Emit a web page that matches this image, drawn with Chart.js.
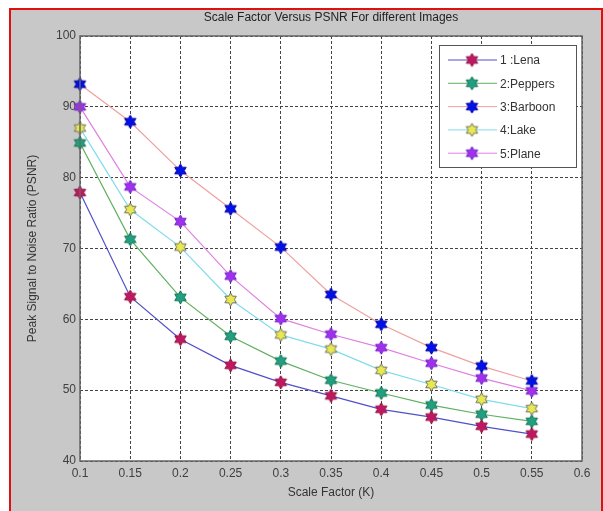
<!DOCTYPE html>
<html>
<head>
<meta charset="utf-8">
<script src="https://cdn.jsdelivr.net/npm/chart.js@4"></script>
<style>
  body { margin: 0; background: #fff; }
  #wrap { width: 603px; height: 511px; }
</style>
</head>
<body>
<div id="wrap"><canvas id="myChart" width="603" height="511"></canvas></div>
<script>
  // values
  var scaleFactor = [0.1, 0.15, 0.2, 0.25, 0.3, 0.35, 0.4, 0.45, 0.5, 0.55];
  var xTicks = [0.1, 0.15, 0.2, 0.25, 0.3, 0.35, 0.4, 0.45, 0.5, 0.55, 0.6];
  var xTickLabels = ['0.1', '0.15', '0.2', '0.25', '0.3', '0.35', '0.4', '0.45', '0.5', '0.55', '0.6'];
  var yTicks = [40, 50, 60, 70, 80, 90, 100];

  var lena = [77.9, 63.2, 57.2, 53.5, 51.1, 49.2, 47.3, 46.2, 44.9, 43.8];
  var peppers = [84.9, 71.3, 63.1, 57.6, 54.1, 51.4, 49.6, 47.9, 46.6, 45.6];
  var barboon = [93.2, 87.9, 81.0, 75.6, 70.2, 63.5, 59.3, 56.0, 53.4, 51.3];
  var lake = [87.0, 75.5, 70.2, 62.8, 57.8, 55.8, 52.8, 50.8, 48.7, 47.4];
  var plane = [90.0, 78.7, 73.8, 66.1, 60.1, 57.9, 56.0, 53.8, 51.7, 49.9];

  var seriesNames = ['1 :Lena', '2:Peppers', '3:Barboon', '4:Lake', '5:Plane'];

  // six pointed star marker, like matlab 'h'
  function makeStar(fill, edge) {
    var c = document.createElement('canvas');
    c.width = 15; c.height = 15;
    var g = c.getContext('2d');
    var R = 6.6, r = R / Math.sqrt(3);
    g.beginPath();
    for (var i = 0; i < 12; i++) {
      var a = -Math.PI / 2 + i * Math.PI / 6;
      var rr = (i % 2 === 0) ? R : r;
      var px = 7.5 + rr * Math.cos(a), py = 7.5 + rr * Math.sin(a);
      if (i === 0) g.moveTo(px, py); else g.lineTo(px, py);
    }
    g.closePath();
    g.fillStyle = fill;
    g.fill();
    g.lineWidth = 1;
    g.strokeStyle = edge;
    g.stroke();
    return c;
  }

  function toPoints(vals) {
    return vals.map(function (v, i) { return { x: scaleFactor[i], y: v }; });
  }

  function series(label, vals, line, fill, edge) {
    return {
      label: label,
      data: toPoints(vals),
      borderColor: line,
      backgroundColor: fill,
      borderWidth: 1.2,
      pointStyle: makeStar(fill, edge),
      pointRadius: 6,
      tension: 0,
      clip: false
    };
  }

  var frame = {
    id: 'frame',
    beforeDraw: function (chart) {
      var ctx = chart.ctx, a = chart.chartArea;
      ctx.save();
      ctx.fillStyle = '#fff';
      ctx.fillRect(0, 0, chart.width, chart.height);
      ctx.fillStyle = '#c8c8c8';
      ctx.fillRect(10, 9, chart.width - 11, chart.height - 9);
      ctx.strokeStyle = '#e01010';
      ctx.lineWidth = 2;
      ctx.strokeRect(10, 9, chart.width - 11, chart.height + 5);
      ctx.fillStyle = '#fff';
      ctx.fillRect(a.left, a.top, a.right - a.left, a.bottom - a.top);
      ctx.restore();
    },
    afterDraw: function (chart) {
      var ctx = chart.ctx, a = chart.chartArea;
      ctx.save();
      ctx.strokeStyle = '#666';
      ctx.lineWidth = 1.5;
      ctx.strokeRect(a.left, a.top, a.right - a.left, a.bottom - a.top);

      // legend box
      var bx = 439, by = 45, bw = 137, bh = 122;
      ctx.fillStyle = '#fff';
      ctx.fillRect(bx, by, bw, bh);
      ctx.strokeStyle = '#555';
      ctx.lineWidth = 1;
      ctx.strokeRect(bx + 0.5, by + 0.5, bw, bh);
      ctx.font = '12px "Liberation Sans", Arial, sans-serif';
      ctx.textBaseline = 'middle';
      chart.data.datasets.forEach(function (ds, i) {
        var yy = 60 + i * 23.3;
        ctx.strokeStyle = ds.borderColor;
        ctx.beginPath();
        ctx.moveTo(448, yy);
        ctx.lineTo(497, yy);
        ctx.stroke();
        ctx.drawImage(ds.pointStyle, 472 - 7.5, yy - 7.5);
        ctx.fillStyle = '#333';
        ctx.fillText(ds.label, 500, yy + 1);
      });
      ctx.restore();
    }
  };

  var ctx = document.getElementById('myChart').getContext('2d');
  this.chart = new Chart(ctx, {
    type: 'line',
    data: {
      datasets: [
        series(seriesNames[0], lena, '#5050c8', '#c01860', '#901040'),
        series(seriesNames[1], peppers, '#60b060', '#20a080', '#107050'),
        series(seriesNames[2], barboon, '#f0a0a0', '#0010e8', '#0000a0'),
        series(seriesNames[3], lake, '#80dcec', '#e8e850', '#707060'),
        series(seriesNames[4], plane, '#e080e0', '#a030f0', '#7020c0')
      ]
    },
    options: {
      responsive: false,
      animation: false,
      layout: { padding: { top: 0, right: 21, left: 0, bottom: 0 } },
      plugins: {
        legend: { display: false },
        tooltip: { enabled: false },
        title: {
          display: true,
          text: 'Scale Factor Versus PSNR For different Images',
          fullSize: false,
          color: '#222',
          font: { family: '"Liberation Sans", Arial, sans-serif', size: 12, weight: 'normal' },
          padding: { top: 10, bottom: 11.6 }
        }
      },
      scales: {
        x: {
          type: 'linear',
          min: 0.1,
          max: 0.6,
          afterBuildTicks: function (scale) {
            scale.ticks = xTicks.map(function (v) { return { value: v }; });
          },
          afterFit: function (scale) { scale.height = 50; },
          ticks: {
            color: '#404040',
            padding: 5,
            maxRotation: 0,
            autoSkip: false,
            font: { family: '"Liberation Sans", Arial, sans-serif', size: 12 },
            callback: function (v, i) { return xTickLabels[i]; }
          },
          grid: { color: '#444', drawTicks: false },
          border: { display: false, dash: [3, 2] },
          title: {
            display: true,
            text: 'Scale Factor (K)',
            color: '#333',
            font: { family: '"Liberation Sans", Arial, sans-serif', size: 12 },
            padding: { top: 0, bottom: 11 }
          }
        },
        y: {
          min: 40,
          max: 100,
          afterBuildTicks: function (scale) {
            scale.ticks = yTicks.map(function (v) { return { value: v }; });
          },
          afterFit: function (scale) { scale.width = 80; },
          ticks: {
            color: '#404040',
            padding: 4,
            font: { family: '"Liberation Sans", Arial, sans-serif', size: 12 }
          },
          grid: { color: '#444', drawTicks: false },
          border: { display: false, dash: [3, 2] },
          title: {
            display: true,
            text: 'Peak Signal to Noise Ratio (PSNR)',
            color: '#333',
            font: { family: '"Liberation Sans", Arial, sans-serif', size: 12 },
            padding: { top: 25, bottom: 0 }
          }
        }
      }
    },
    plugins: [frame]
  });
</script>
</body>
</html>
